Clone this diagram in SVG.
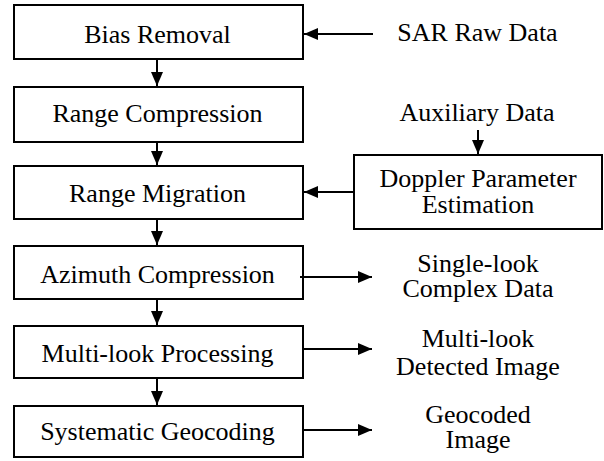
<svg xmlns="http://www.w3.org/2000/svg" width="604" height="461" viewBox="0 0 604 461">
<style>
rect.box{fill:#fff;stroke:#000;stroke-width:2}
text{font-family:'Liberation Serif','DejaVu Serif',serif;font-size:26px;fill:#000;text-anchor:middle}
.conn line{stroke:#000;stroke-width:2;fill:none}
</style>
<defs>
<marker id="ah" markerUnits="userSpaceOnUse" markerWidth="14" markerHeight="12" refX="14" refY="6" orient="auto">
<path d="M0,0 L14,6 L0,12 Z" fill="#000"/>
</marker>
</defs>
<rect width="604" height="461" fill="#fff"/>
<g id="bias"><rect class="box" x="14" y="5" width="289" height="54"/><text x="157.5" y="43" font-family="Liberation Serif, serif">Bias Removal</text></g>
<g id="range-comp"><rect class="box" x="14" y="87" width="289" height="55"/><text x="157.5" y="121.5" font-family="Liberation Serif, serif">Range Compression</text></g>
<g id="range-mig"><rect class="box" x="14" y="166" width="289" height="53"/><text x="157.5" y="201.5" font-family="Liberation Serif, serif">Range Migration</text></g>
<g id="azimuth"><rect class="box" x="14" y="246" width="289" height="53"/><text x="157.5" y="283" font-family="Liberation Serif, serif">Azimuth Compression</text></g>
<g id="multilook"><rect class="box" x="14" y="326" width="289" height="52"/><text x="157.5" y="362" font-family="Liberation Serif, serif">Multi-look Processing</text></g>
<g id="geocoding"><rect class="box" x="14" y="406" width="289" height="51"/><text x="157.5" y="440" font-family="Liberation Serif, serif">Systematic Geocoding</text></g>
<g id="doppler"><rect class="box" x="354" y="155" width="248" height="74"/><text x="478" y="187" font-family="Liberation Serif, serif">Doppler Parameter</text><text x="478" y="213" font-family="Liberation Serif, serif">Estimation</text></g>
<g id="sar-raw"><text x="477.5" y="41" font-family="Liberation Serif, serif">SAR Raw Data</text></g>
<g id="aux"><text x="477" y="121" font-family="Liberation Serif, serif">Auxiliary Data</text></g>
<g id="slc"><text x="478" y="272" font-family="Liberation Serif, serif">Single-look</text><text x="478" y="297" font-family="Liberation Serif, serif">Complex Data</text></g>
<g id="mld"><text x="478" y="347" font-family="Liberation Serif, serif">Multi-look</text><text x="478" y="375" font-family="Liberation Serif, serif">Detected Image</text></g>
<g id="geo-img"><text x="478" y="423" font-family="Liberation Serif, serif">Geocoded</text><text x="478" y="448" font-family="Liberation Serif, serif">Image</text></g>
<g class="conn" id="connectors">
<line x1="157" y1="60" x2="157" y2="86" marker-end="url(#ah)"/>
<line x1="157" y1="142" x2="157" y2="165" marker-end="url(#ah)"/>
<line x1="157" y1="220" x2="157" y2="245" marker-end="url(#ah)"/>
<line x1="157" y1="300" x2="157" y2="325" marker-end="url(#ah)"/>
<line x1="157" y1="378" x2="157" y2="405" marker-end="url(#ah)"/>
<line x1="373" y1="34" x2="304" y2="34" marker-end="url(#ah)"/>
<line x1="478" y1="130" x2="478" y2="154" marker-end="url(#ah)"/>
<line x1="354" y1="192" x2="304" y2="192" marker-end="url(#ah)"/>
<line x1="300" y1="277" x2="372" y2="277" marker-end="url(#ah)"/>
<line x1="303" y1="349" x2="372" y2="349" marker-end="url(#ah)"/>
<line x1="303" y1="430" x2="372" y2="430" marker-end="url(#ah)"/>
</g>
</svg>
